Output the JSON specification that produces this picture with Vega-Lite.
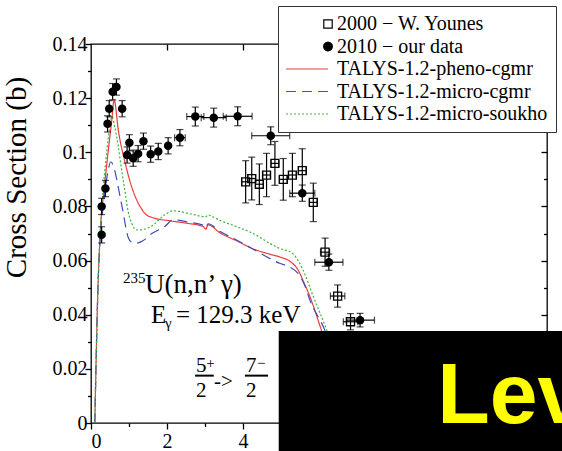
{
  "$schema": "https://vega.github.io/schema/vega-lite/v6.json",
  "width": 456,
  "height": 379,
  "autosize": {"type": "none"},
  "padding": {"left": 91, "top": 44, "right": 15, "bottom": 28},
  "background": "white",
  "config": {
    "view": {"stroke": "black", "strokeWidth": 1.3},
    "axis": {"domain": false, "grid": false, "tickColor": "black", "tickWidth": 1.3, "labelFont": "Liberation Serif", "labelFontSize": 20, "labelColor": "black", "titleFont": "Liberation Serif", "titleFontWeight": "normal", "titleColor": "black"}
  },
  "resolve": {"axis": {"x": "independent", "y": "independent"}},
  "datasets": {
    "curves": [
      {"series": "TALYS-1.2-pheno-cgmr", "x": 0.1, "y": 0},
      {"series": "TALYS-1.2-pheno-cgmr", "x": 0.19, "y": 0.053},
      {"series": "TALYS-1.2-pheno-cgmr", "x": 0.25, "y": 0.072},
      {"series": "TALYS-1.2-pheno-cgmr", "x": 0.35, "y": 0.087},
      {"series": "TALYS-1.2-pheno-cgmr", "x": 0.45, "y": 0.1},
      {"series": "TALYS-1.2-pheno-cgmr", "x": 0.54, "y": 0.111},
      {"series": "TALYS-1.2-pheno-cgmr", "x": 0.61, "y": 0.1193},
      {"series": "TALYS-1.2-pheno-cgmr", "x": 0.72, "y": 0.108},
      {"series": "TALYS-1.2-pheno-cgmr", "x": 0.9, "y": 0.096},
      {"series": "TALYS-1.2-pheno-cgmr", "x": 1.1, "y": 0.086},
      {"series": "TALYS-1.2-pheno-cgmr", "x": 1.29, "y": 0.08},
      {"series": "TALYS-1.2-pheno-cgmr", "x": 1.45, "y": 0.077},
      {"series": "TALYS-1.2-pheno-cgmr", "x": 1.64, "y": 0.0758},
      {"series": "TALYS-1.2-pheno-cgmr", "x": 2.07, "y": 0.0747},
      {"series": "TALYS-1.2-pheno-cgmr", "x": 2.52, "y": 0.0738},
      {"series": "TALYS-1.2-pheno-cgmr", "x": 2.95, "y": 0.0726},
      {"series": "TALYS-1.2-pheno-cgmr", "x": 3.02, "y": 0.0716},
      {"series": "TALYS-1.2-pheno-cgmr", "x": 3.08, "y": 0.0732},
      {"series": "TALYS-1.2-pheno-cgmr", "x": 3.4, "y": 0.0702},
      {"series": "TALYS-1.2-pheno-cgmr", "x": 3.85, "y": 0.0672},
      {"series": "TALYS-1.2-pheno-cgmr", "x": 4.27, "y": 0.0643},
      {"series": "TALYS-1.2-pheno-cgmr", "x": 4.7, "y": 0.0624},
      {"series": "TALYS-1.2-pheno-cgmr", "x": 5.0, "y": 0.0612},
      {"series": "TALYS-1.2-pheno-cgmr", "x": 5.25, "y": 0.0596},
      {"series": "TALYS-1.2-pheno-cgmr", "x": 5.45, "y": 0.0565},
      {"series": "TALYS-1.2-pheno-cgmr", "x": 5.6, "y": 0.052},
      {"series": "TALYS-1.2-pheno-cgmr", "x": 5.76, "y": 0.0467},
      {"series": "TALYS-1.2-pheno-cgmr", "x": 6.06, "y": 0.0344},
      {"series": "TALYS-1.2-pheno-cgmr", "x": 6.35, "y": 0.022},
      {"series": "TALYS-1.2-pheno-cgmr", "x": 6.65, "y": 0.01},
      {"series": "TALYS-1.2-pheno-cgmr", "x": 6.9, "y": 0},
      {"series": "TALYS-1.2-micro-cgmr", "x": 0.1, "y": 0},
      {"series": "TALYS-1.2-micro-cgmr", "x": 0.19, "y": 0.053},
      {"series": "TALYS-1.2-micro-cgmr", "x": 0.25, "y": 0.07},
      {"series": "TALYS-1.2-micro-cgmr", "x": 0.33, "y": 0.081},
      {"series": "TALYS-1.2-micro-cgmr", "x": 0.4, "y": 0.089},
      {"series": "TALYS-1.2-micro-cgmr", "x": 0.46, "y": 0.094},
      {"series": "TALYS-1.2-micro-cgmr", "x": 0.52, "y": 0.0965},
      {"series": "TALYS-1.2-micro-cgmr", "x": 0.6, "y": 0.0945},
      {"series": "TALYS-1.2-micro-cgmr", "x": 0.68, "y": 0.0898},
      {"series": "TALYS-1.2-micro-cgmr", "x": 0.76, "y": 0.084},
      {"series": "TALYS-1.2-micro-cgmr", "x": 0.85, "y": 0.0775},
      {"series": "TALYS-1.2-micro-cgmr", "x": 0.92, "y": 0.072},
      {"series": "TALYS-1.2-micro-cgmr", "x": 0.98, "y": 0.0685},
      {"series": "TALYS-1.2-micro-cgmr", "x": 1.07, "y": 0.0668},
      {"series": "TALYS-1.2-micro-cgmr", "x": 1.2, "y": 0.0664},
      {"series": "TALYS-1.2-micro-cgmr", "x": 1.35, "y": 0.0672},
      {"series": "TALYS-1.2-micro-cgmr", "x": 1.6, "y": 0.07},
      {"series": "TALYS-1.2-micro-cgmr", "x": 1.95, "y": 0.0727},
      {"series": "TALYS-1.2-micro-cgmr", "x": 2.17, "y": 0.0752},
      {"series": "TALYS-1.2-micro-cgmr", "x": 2.52, "y": 0.0743},
      {"series": "TALYS-1.2-micro-cgmr", "x": 2.95, "y": 0.0731},
      {"series": "TALYS-1.2-micro-cgmr", "x": 3.02, "y": 0.0722},
      {"series": "TALYS-1.2-micro-cgmr", "x": 3.08, "y": 0.0736},
      {"series": "TALYS-1.2-micro-cgmr", "x": 3.4, "y": 0.0707},
      {"series": "TALYS-1.2-micro-cgmr", "x": 3.83, "y": 0.0676},
      {"series": "TALYS-1.2-micro-cgmr", "x": 4.27, "y": 0.0642},
      {"series": "TALYS-1.2-micro-cgmr", "x": 4.62, "y": 0.0614},
      {"series": "TALYS-1.2-micro-cgmr", "x": 4.96, "y": 0.059},
      {"series": "TALYS-1.2-micro-cgmr", "x": 5.22, "y": 0.0577},
      {"series": "TALYS-1.2-micro-cgmr", "x": 5.48, "y": 0.0547},
      {"series": "TALYS-1.2-micro-cgmr", "x": 5.62, "y": 0.051},
      {"series": "TALYS-1.2-micro-cgmr", "x": 5.76, "y": 0.0454},
      {"series": "TALYS-1.2-micro-cgmr", "x": 6.15, "y": 0.0344},
      {"series": "TALYS-1.2-micro-cgmr", "x": 6.5, "y": 0.02},
      {"series": "TALYS-1.2-micro-cgmr", "x": 6.95, "y": 0},
      {"series": "TALYS-1.2-micro-soukho", "x": 0.1, "y": 0},
      {"series": "TALYS-1.2-micro-soukho", "x": 0.19, "y": 0.053},
      {"series": "TALYS-1.2-micro-soukho", "x": 0.25, "y": 0.072},
      {"series": "TALYS-1.2-micro-soukho", "x": 0.33, "y": 0.088},
      {"series": "TALYS-1.2-micro-soukho", "x": 0.42, "y": 0.101},
      {"series": "TALYS-1.2-micro-soukho", "x": 0.5, "y": 0.11},
      {"series": "TALYS-1.2-micro-soukho", "x": 0.55, "y": 0.1132},
      {"series": "TALYS-1.2-micro-soukho", "x": 0.63, "y": 0.109},
      {"series": "TALYS-1.2-micro-soukho", "x": 0.72, "y": 0.102},
      {"series": "TALYS-1.2-micro-soukho", "x": 0.8, "y": 0.094},
      {"series": "TALYS-1.2-micro-soukho", "x": 0.89, "y": 0.086},
      {"series": "TALYS-1.2-micro-soukho", "x": 0.98, "y": 0.078},
      {"series": "TALYS-1.2-micro-soukho", "x": 1.07, "y": 0.0738},
      {"series": "TALYS-1.2-micro-soukho", "x": 1.2, "y": 0.0713},
      {"series": "TALYS-1.2-micro-soukho", "x": 1.4, "y": 0.0716},
      {"series": "TALYS-1.2-micro-soukho", "x": 1.6, "y": 0.0728},
      {"series": "TALYS-1.2-micro-soukho", "x": 1.93, "y": 0.0768},
      {"series": "TALYS-1.2-micro-soukho", "x": 2.17, "y": 0.0784},
      {"series": "TALYS-1.2-micro-soukho", "x": 2.6, "y": 0.0773},
      {"series": "TALYS-1.2-micro-soukho", "x": 3.02, "y": 0.0762},
      {"series": "TALYS-1.2-micro-soukho", "x": 3.08, "y": 0.0769},
      {"series": "TALYS-1.2-micro-soukho", "x": 3.14, "y": 0.0766},
      {"series": "TALYS-1.2-micro-soukho", "x": 3.4, "y": 0.0748},
      {"series": "TALYS-1.2-micro-soukho", "x": 3.84, "y": 0.0725},
      {"series": "TALYS-1.2-micro-soukho", "x": 4.27, "y": 0.07},
      {"series": "TALYS-1.2-micro-soukho", "x": 4.7, "y": 0.0664},
      {"series": "TALYS-1.2-micro-soukho", "x": 4.96, "y": 0.0645},
      {"series": "TALYS-1.2-micro-soukho", "x": 5.3, "y": 0.0627},
      {"series": "TALYS-1.2-micro-soukho", "x": 5.45, "y": 0.06},
      {"series": "TALYS-1.2-micro-soukho", "x": 5.58, "y": 0.0565},
      {"series": "TALYS-1.2-micro-soukho", "x": 5.85, "y": 0.0467},
      {"series": "TALYS-1.2-micro-soukho", "x": 6.2, "y": 0.0344},
      {"series": "TALYS-1.2-micro-soukho", "x": 6.55, "y": 0.02},
      {"series": "TALYS-1.2-micro-soukho", "x": 7.0, "y": 0}
    ],
    "ours": [
      {"series": "2010 − our data", "x": 0.28, "y": 0.0695, "ylo": 0.0665, "yhi": 0.0725},
      {"series": "2010 − our data", "x": 0.28, "y": 0.08, "ylo": 0.077, "yhi": 0.083},
      {"series": "2010 − our data", "x": 0.38, "y": 0.0866, "ylo": 0.0836, "yhi": 0.0896},
      {"series": "2010 − our data", "x": 0.435, "y": 0.1105, "ylo": 0.1075, "yhi": 0.1135},
      {"series": "2010 − our data", "x": 0.48, "y": 0.1161, "ylo": 0.1131, "yhi": 0.1191},
      {"series": "2010 − our data", "x": 0.57, "y": 0.1224, "ylo": 0.1194, "yhi": 0.1254},
      {"series": "2010 − our data", "x": 0.67, "y": 0.1241, "ylo": 0.1211, "yhi": 0.1271},
      {"series": "2010 − our data", "x": 0.82, "y": 0.1161, "ylo": 0.1131, "yhi": 0.1191},
      {"series": "2010 − our data", "x": 0.95, "y": 0.099, "ylo": 0.096, "yhi": 0.102},
      {"series": "2010 − our data", "x": 1.01, "y": 0.1035, "ylo": 0.1005, "yhi": 0.1065},
      {"series": "2010 − our data", "x": 1.11, "y": 0.0978, "ylo": 0.0948, "yhi": 0.1008},
      {"series": "2010 − our data", "x": 1.24, "y": 0.0995, "ylo": 0.0965, "yhi": 0.1025},
      {"series": "2010 − our data", "x": 1.38, "y": 0.1041, "ylo": 0.1011, "yhi": 0.1071},
      {"series": "2010 − our data", "x": 1.57, "y": 0.0993, "ylo": 0.0963, "yhi": 0.1023},
      {"series": "2010 − our data", "x": 1.77, "y": 0.1003, "ylo": 0.0973, "yhi": 0.1033},
      {"series": "2010 − our data", "x": 2.03, "y": 0.1024, "ylo": 0.0994, "yhi": 0.1054},
      {"series": "2010 − our data", "x": 2.34, "y": 0.1054, "ylo": 0.1024, "yhi": 0.1084, "xlo": 2.2, "xhi": 2.48},
      {"series": "2010 − our data", "x": 2.745, "y": 0.1132, "ylo": 0.1097, "yhi": 0.1167, "xlo": 2.52, "xhi": 2.97},
      {"series": "2010 − our data", "x": 3.23, "y": 0.1128, "ylo": 0.1093, "yhi": 0.1163, "xlo": 2.9, "xhi": 3.56},
      {"series": "2010 − our data", "x": 3.86, "y": 0.1133, "ylo": 0.1098, "yhi": 0.1168, "xlo": 3.48, "xhi": 4.24},
      {"series": "2010 − our data", "x": 4.73, "y": 0.1061, "ylo": 0.1028, "yhi": 0.1094, "xlo": 4.23, "xhi": 5.23},
      {"series": "2010 − our data", "x": 5.56, "y": 0.0849, "ylo": 0.0819, "yhi": 0.0879, "xlo": 5.23, "xhi": 5.89},
      {"series": "2010 − our data", "x": 6.26, "y": 0.0594, "ylo": 0.0564, "yhi": 0.0624, "xlo": 5.89, "xhi": 6.63},
      {"series": "2010 − our data", "x": 7.08, "y": 0.038, "ylo": 0.0355, "yhi": 0.0405, "xlo": 6.72, "xhi": 7.46}
    ],
    "younes": [
      {"series": "2000 − W. Younes", "x": 4.07, "y": 0.0891, "ylo": 0.0813, "yhi": 0.0969, "xlo": 3.97, "xhi": 4.17},
      {"series": "2000 − W. Younes", "x": 4.23, "y": 0.0903, "ylo": 0.0824, "yhi": 0.0982, "xlo": 4.13, "xhi": 4.33},
      {"series": "2000 − W. Younes", "x": 4.43, "y": 0.0882, "ylo": 0.0807, "yhi": 0.0957, "xlo": 4.33, "xhi": 4.53},
      {"series": "2000 − W. Younes", "x": 4.62, "y": 0.0916, "ylo": 0.0836, "yhi": 0.0996, "xlo": 4.52, "xhi": 4.72},
      {"series": "2000 − W. Younes", "x": 4.84, "y": 0.0959, "ylo": 0.0878, "yhi": 0.104, "xlo": 4.74, "xhi": 4.94},
      {"series": "2000 − W. Younes", "x": 5.06, "y": 0.09, "ylo": 0.0823, "yhi": 0.0977, "xlo": 4.96, "xhi": 5.16},
      {"series": "2000 − W. Younes", "x": 5.3, "y": 0.0916, "ylo": 0.0836, "yhi": 0.0996, "xlo": 5.2, "xhi": 5.4},
      {"series": "2000 − W. Younes", "x": 5.56, "y": 0.0932, "ylo": 0.0851, "yhi": 0.1013, "xlo": 5.46, "xhi": 5.66},
      {"series": "2000 − W. Younes", "x": 5.85, "y": 0.0815, "ylo": 0.0744, "yhi": 0.0886, "xlo": 5.75, "xhi": 5.95},
      {"series": "2000 − W. Younes", "x": 6.16, "y": 0.0631, "ylo": 0.0579, "yhi": 0.0683, "xlo": 6.04, "xhi": 6.28},
      {"series": "2000 − W. Younes", "x": 6.49, "y": 0.0469, "ylo": 0.0428, "yhi": 0.051, "xlo": 6.3, "xhi": 6.68},
      {"series": "2000 − W. Younes", "x": 6.83, "y": 0.0374, "ylo": 0.0344, "yhi": 0.0404, "xlo": 6.64, "xhi": 7.02}
    ],
    "notes": [
      {"g": "big", "t": "U(n,n’ γ)", "x": 1.42, "y": 0.048},
      {"g": "med", "t": "E", "x": 1.579, "y": 0.0369},
      {"g": "med", "t": "= 129.3 keV", "x": 2.237, "y": 0.0369},
      {"g": "small", "t": "235", "x": 0.842, "y": 0.0517},
      {"g": "small", "t": "γ", "x": 1.947, "y": 0.0351},
      {"g": "frac", "t": "5", "x": 2.763, "y": 0.0188},
      {"g": "frac", "t": "2", "x": 2.763, "y": 0.0096},
      {"g": "frac", "t": "->", "x": 3.24, "y": 0.0129},
      {"g": "frac", "t": "7", "x": 4.08, "y": 0.0188},
      {"g": "frac", "t": "2", "x": 4.08, "y": 0.0096},
      {"g": "sup", "t": "+", "x": 3.03, "y": 0.0205},
      {"g": "sup", "t": "−", "x": 4.37, "y": 0.0204}
    ],
    "bars": [
      {"x": 2.74, "x2": 3.23, "y": 0.0175},
      {"x": 4.05, "x2": 4.66, "y": 0.0175}
    ],
    "box": [
      {"x": 4.94, "x2": 12.6, "y": -0.0137, "y2": 0.034, "t": "Lev", "tx": 9.11, "ty": 0}
    ]
  },
  "layer": [
    {
      "data": {"name": "curves"},
      "mark": {"type": "line", "strokeWidth": 1.2, "interpolate": "monotone"},
      "encoding": {
        "x": {"field": "x", "type": "quantitative", "scale": {"domain": [0, 12], "nice": false, "zero": false},
              "axis": {"orient": "bottom", "values": [0, 2, 4, 6, 8, 10, 12], "tickSize": 6, "labelPadding": 2, "labelFont": "Liberation Serif", "labelFontSize": 20, "title": null}},
        "y": {"field": "y", "type": "quantitative", "scale": {"domain": [0, 0.14], "nice": false, "zero": false},
              "axis": {"orient": "left", "values": [0, 0.02, 0.04, 0.06, 0.08, 0.1, 0.12, 0.14], "format": "~g", "tickSize": 6, "labelPadding": -2, "labelFont": "Liberation Serif", "labelFontSize": 20,
                       "title": "Cross Section (b)", "titleFont": "Liberation Serif", "titleFontSize": 29, "titleX": -75, "titleY": 133, "titleAngle": 270, "titleAlign": "center", "titleBaseline": "middle"}},
        "stroke": {"field": "series", "type": "nominal",
          "scale": {"domain": ["2000 − W. Younes", "2010 − our data", "TALYS-1.2-pheno-cgmr", "TALYS-1.2-micro-cgmr", "TALYS-1.2-micro-soukho"],
                    "range": ["black", "black", "#f03a3a", "#3d4fb8", "#3cb43c"]},
          "legend": {"orient": "none", "legendX": 187, "legendY": -38, "title": null, "columns": 1, "padding": 8, "rowPadding": 2.5, "labelOffset": 31, "symbolStrokeWidth": 1.2, "symbolOpacity": 1, "labelFont": "Liberation Serif", "labelFontSize": 20, "labelColor": "black", "labelLimit": 400, "fillColor": "white", "strokeColor": "#333"}},
        "strokeDash": {"field": "series", "type": "nominal",
          "scale": {"domain": ["2000 − W. Younes", "2010 − our data", "TALYS-1.2-pheno-cgmr", "TALYS-1.2-micro-cgmr", "TALYS-1.2-micro-soukho"],
                    "range": [[1, 0], [1, 0], [1, 0], [10, 6], [2, 2]]},
          "legend": {"orient": "none", "legendX": 187, "legendY": -38, "title": null, "columns": 1, "padding": 8, "rowPadding": 2.5, "labelOffset": 31, "symbolStrokeWidth": 1.2, "symbolOpacity": 1, "labelFont": "Liberation Serif", "labelFontSize": 20, "labelColor": "black", "labelLimit": 400, "fillColor": "white", "strokeColor": "#333"}}
      }
    },
    {
      "data": {"name": "ours"},
      "transform": [{"filter": "datum.x < -100"}],
      "mark": {"type": "point", "filled": true, "strokeWidth": 1.2},
      "encoding": {
        "x": {"field": "x", "type": "quantitative", "axis": null},
        "y": {"field": "y", "type": "quantitative", "axis": null},
        "stroke": {"field": "series", "type": "nominal",
          "scale": {"domain": ["2000 − W. Younes", "2010 − our data", "TALYS-1.2-pheno-cgmr", "TALYS-1.2-micro-cgmr", "TALYS-1.2-micro-soukho"],
                    "range": ["black", "black", "#f03a3a", "#3d4fb8", "#3cb43c"]},
          "legend": {"orient": "none", "legendX": 187, "legendY": -38, "title": null, "columns": 1, "padding": 8, "rowPadding": 2.5, "labelOffset": 31, "symbolStrokeWidth": 1.2, "symbolOpacity": 1, "labelFont": "Liberation Serif", "labelFontSize": 20, "labelColor": "black", "labelLimit": 400, "fillColor": "white", "strokeColor": "#333"}},
        "fill": {"field": "series", "type": "nominal",
          "scale": {"domain": ["2000 − W. Younes", "2010 − our data", "TALYS-1.2-pheno-cgmr", "TALYS-1.2-micro-cgmr", "TALYS-1.2-micro-soukho"],
                    "range": ["transparent", "black", "transparent", "transparent", "transparent"]},
          "legend": {"orient": "none", "legendX": 187, "legendY": -38, "title": null, "columns": 1, "padding": 8, "rowPadding": 2.5, "labelOffset": 31, "symbolStrokeWidth": 1.2, "symbolOpacity": 1, "labelFont": "Liberation Serif", "labelFontSize": 20, "labelColor": "black", "labelLimit": 400, "fillColor": "white", "strokeColor": "#333"}},
        "shape": {"field": "series", "type": "nominal",
          "scale": {"domain": ["2000 − W. Younes", "2010 − our data", "TALYS-1.2-pheno-cgmr", "TALYS-1.2-micro-cgmr", "TALYS-1.2-micro-soukho"],
                    "range": ["M3.089,-0.467H4.022V0.467H3.089Z", "M4.045,0L3.9795,0.2445L3.8005,0.4235L3.556,0.489L3.3115,0.4235L3.1325,0.2445L3.067,0L3.1325,-0.2445L3.3115,-0.4235L3.556,-0.489L3.8005,-0.4235L3.9795,-0.2445Z", "M-1.111,0H3.556", "M-1.111,0H3.556", "M-1.111,0H3.556"]},
          "legend": {"orient": "none", "legendX": 187, "legendY": -38, "title": null, "columns": 1, "padding": 8, "rowPadding": 2.5, "labelOffset": 31, "symbolStrokeWidth": 1.2, "symbolOpacity": 1, "labelFont": "Liberation Serif", "labelFontSize": 20, "labelColor": "black", "labelLimit": 400, "fillColor": "white", "strokeColor": "#333"}},
        "size": {"field": "series", "type": "nominal",
          "scale": {"type": "ordinal", "domain": ["2000 − W. Younes", "2010 − our data", "TALYS-1.2-pheno-cgmr", "TALYS-1.2-micro-cgmr", "TALYS-1.2-micro-soukho"],
                    "range": [324, 324, 324, 324, 324]},
          "legend": {"orient": "none", "legendX": 187, "legendY": -38, "title": null, "columns": 1, "padding": 8, "rowPadding": 2.5, "labelOffset": 31, "symbolStrokeWidth": 1.2, "symbolOpacity": 1, "labelFont": "Liberation Serif", "labelFontSize": 20, "labelColor": "black", "labelLimit": 400, "fillColor": "white", "strokeColor": "#333"}}
      }
    },
    {
      "data": {"name": "ours"},
      "mark": {"type": "errorbar", "ticks": {"size": 7}, "color": "black", "thickness": 1.2},
      "encoding": {
        "x": {"field": "x", "type": "quantitative", "axis": null},
        "y": {"field": "ylo", "type": "quantitative", "axis": null},
        "y2": {"field": "yhi"}
      }
    },
    {
      "data": {"name": "ours"},
      "transform": [{"filter": "isValid(datum.xlo)"}],
      "mark": {"type": "errorbar", "ticks": {"size": 7}, "color": "black", "thickness": 1.2},
      "encoding": {
        "y": {"field": "y", "type": "quantitative", "axis": null},
        "x": {"field": "xlo", "type": "quantitative", "axis": null},
        "x2": {"field": "xhi"}
      }
    },
    {
      "data": {"name": "younes"},
      "mark": {"type": "errorbar", "ticks": {"size": 7}, "color": "black", "thickness": 1.2},
      "encoding": {
        "x": {"field": "x", "type": "quantitative", "axis": null},
        "y": {"field": "ylo", "type": "quantitative", "axis": null},
        "y2": {"field": "yhi"}
      }
    },
    {
      "data": {"name": "younes"},
      "mark": {"type": "errorbar", "ticks": {"size": 7}, "color": "black", "thickness": 1.2},
      "encoding": {
        "y": {"field": "y", "type": "quantitative", "axis": null},
        "x": {"field": "xlo", "type": "quantitative", "axis": null},
        "x2": {"field": "xhi"}
      }
    },
    {
      "data": {"name": "younes"},
      "mark": {"type": "point", "shape": "square", "filled": false, "stroke": "black", "strokeWidth": 1.3, "size": 64, "opacity": 1},
      "encoding": {
        "x": {"field": "x", "type": "quantitative", "axis": {"orient": "bottom", "values": [1, 3, 5, 7, 9, 11], "tickSize": 3.5, "labels": false, "title": null}},
        "y": {"field": "y", "type": "quantitative", "axis": {"orient": "left", "values": [0.01, 0.03, 0.05, 0.07, 0.09, 0.11, 0.13], "tickSize": 3.5, "labels": false, "title": null}}
      }
    },
    {
      "data": {"name": "ours"},
      "mark": {"type": "point", "shape": "circle", "filled": true, "color": "black", "size": 72, "opacity": 1},
      "encoding": {
        "x": {"field": "x", "type": "quantitative", "axis": {"orient": "top", "values": [2, 4, 6, 8, 10], "tickSize": -6, "labels": false, "title": null}},
        "y": {"field": "y", "type": "quantitative", "axis": {"orient": "right", "values": [0.02, 0.04, 0.06, 0.08, 0.1, 0.12], "tickSize": -6, "labels": false, "title": null}}
      }
    },
    {
      "data": {"name": "bars"},
      "mark": {"type": "rule", "color": "black", "strokeWidth": 2},
      "encoding": {
        "x": {"field": "x", "type": "quantitative", "axis": null},
        "x2": {"field": "x2"},
        "y": {"field": "y", "type": "quantitative", "axis": {"orient": "right", "values": [0.01, 0.03, 0.05, 0.07, 0.09, 0.11, 0.13], "tickSize": -3.5, "labels": false, "title": null}}
      }
    },
    {
      "data": {"name": "notes"},
      "transform": [{"filter": "datum.g === 'big'"}],
      "mark": {"type": "text", "font": "Liberation Serif", "fontSize": 27, "align": "left", "baseline": "alphabetic", "color": "black"},
      "encoding": {
        "x": {"field": "x", "type": "quantitative", "axis": null},
        "y": {"field": "y", "type": "quantitative", "axis": null},
        "text": {"field": "t"}
      }
    },
    {
      "data": {"name": "notes"},
      "transform": [{"filter": "datum.g === 'med'"}],
      "mark": {"type": "text", "font": "Liberation Serif", "fontSize": 25, "align": "left", "baseline": "alphabetic", "color": "black"},
      "encoding": {
        "x": {"field": "x", "type": "quantitative", "axis": null},
        "y": {"field": "y", "type": "quantitative", "axis": null},
        "text": {"field": "t"}
      }
    },
    {
      "data": {"name": "notes"},
      "transform": [{"filter": "datum.g === 'small'"}],
      "mark": {"type": "text", "font": "Liberation Serif", "fontSize": 15, "align": "left", "baseline": "alphabetic", "color": "black"},
      "encoding": {
        "x": {"field": "x", "type": "quantitative", "axis": null},
        "y": {"field": "y", "type": "quantitative", "axis": null},
        "text": {"field": "t"}
      }
    },
    {
      "data": {"name": "notes"},
      "transform": [{"filter": "datum.g === 'frac'"}],
      "mark": {"type": "text", "font": "Liberation Serif", "fontSize": 21, "align": "left", "baseline": "alphabetic", "color": "black"},
      "encoding": {
        "x": {"field": "x", "type": "quantitative", "axis": null},
        "y": {"field": "y", "type": "quantitative", "axis": null},
        "text": {"field": "t"}
      }
    },
    {
      "data": {"name": "notes"},
      "transform": [{"filter": "datum.g === 'sup'"}],
      "mark": {"type": "text", "font": "Liberation Serif", "fontSize": 15, "align": "left", "baseline": "alphabetic", "color": "black"},
      "encoding": {
        "x": {"field": "x", "type": "quantitative", "axis": null},
        "y": {"field": "y", "type": "quantitative", "axis": null},
        "text": {"field": "t"}
      }
    },
    {
      "data": {"name": "box"},
      "mark": {"type": "rect", "color": "black", "opacity": 1},
      "encoding": {
        "x": {"field": "x", "type": "quantitative", "axis": null},
        "x2": {"field": "x2"},
        "y": {"field": "y", "type": "quantitative", "axis": null},
        "y2": {"field": "y2"}
      }
    },
    {
      "data": {"name": "box"},
      "mark": {"type": "text", "font": "Liberation Sans", "fontWeight": "bold", "fontSize": 86, "align": "left", "baseline": "alphabetic", "color": "#ffff00"},
      "encoding": {
        "x": {"field": "tx", "type": "quantitative", "axis": null},
        "y": {"field": "ty", "type": "quantitative", "axis": null},
        "text": {"field": "t"}
      }
    }
  ]
}
